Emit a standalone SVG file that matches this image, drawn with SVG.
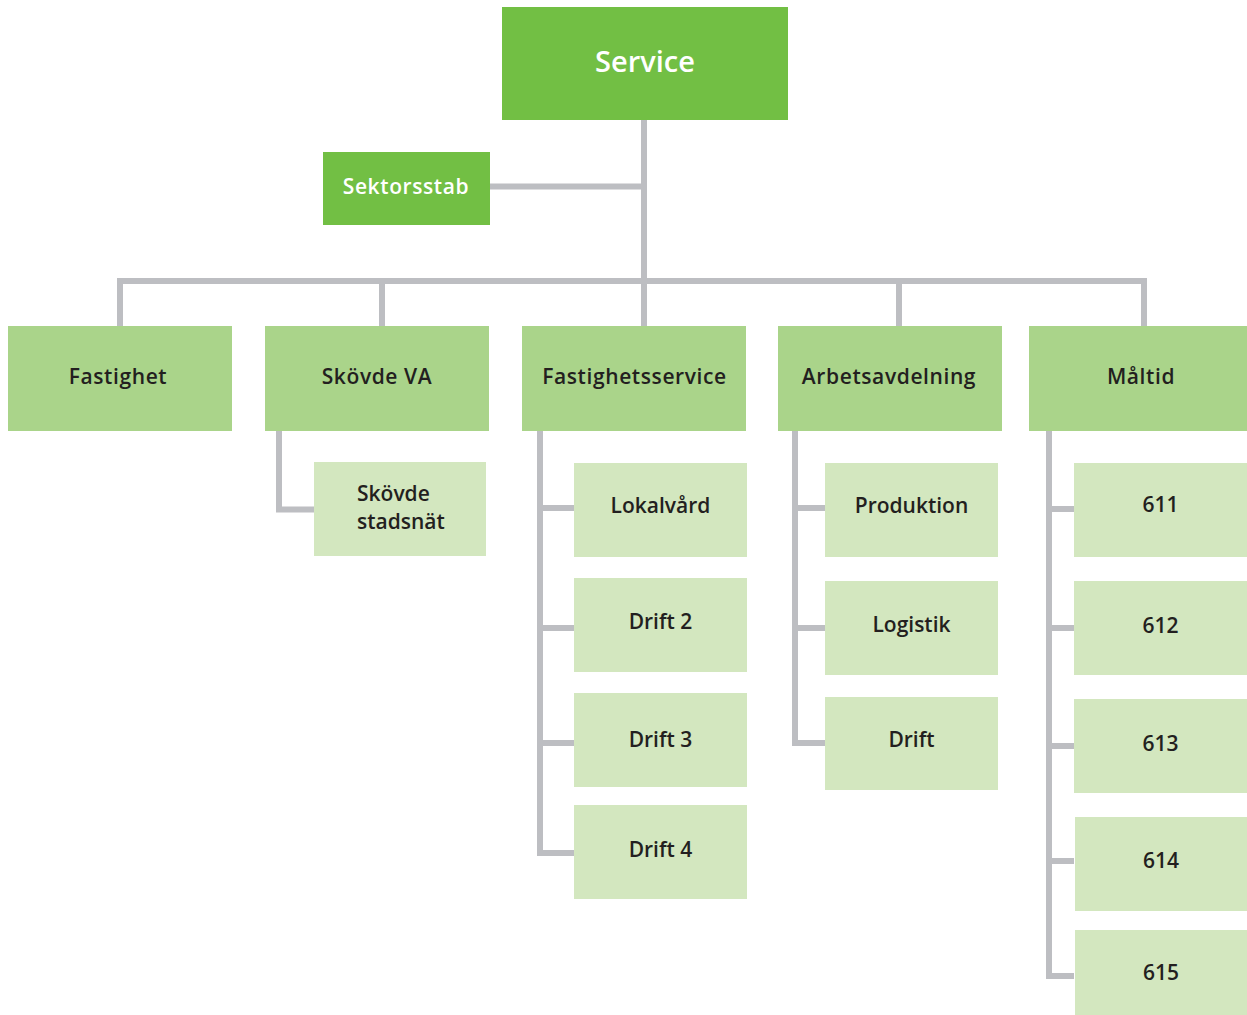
<svg xmlns="http://www.w3.org/2000/svg" width="1247" height="1015" viewBox="0 0 1247 1015">
<style>
.c{fill:none;stroke:#BDBEC2;stroke-width:6;stroke-linejoin:miter}
.l1{fill:#72BF44}
.l2{fill:#AAD48A}
.l3{fill:#D3E7BF}
text{font-family:"Open Sans","Noto Sans","Liberation Sans",sans-serif;font-weight:600;text-anchor:middle;fill:#231F20;font-size:21px}
.w{fill:#FFFFFF}
.s{letter-spacing:0.6px}
</style>
<rect width="1247" height="1015" fill="#FFFFFF"/>
<g id="connectors">
<path class="c" d="M644,120 V326"/>
<path class="c" d="M490,186.5 H644"/>
<path class="c" d="M120,326 V281 H1144 V326"/>
<path class="c" d="M382,281 V326"/>
<path class="c" d="M899,281 V326"/>
<path class="c" d="M279,431 V509.5 H314"/>
<path class="c" d="M540,431 V853 H574 M540,508 H574 M540,628 H574 M540,743 H574"/>
<path class="c" d="M795,431 V743 H825 M795,508 H825 M795,628 H825"/>
<path class="c" d="M1049,431 V976 H1074 M1049,509 H1074 M1049,628 H1074 M1049,746 H1074 M1049,861 H1074"/>
</g>
<g id="service"><rect class="l1" x="502" y="7" width="286" height="113"/><text class="w" x="645" y="72" style="font-size:29px">Service</text></g>
<g id="sektorsstab"><rect class="l1" x="323" y="152" width="167" height="73"/><text class="w s" x="406" y="194" style="font-size:21px">Sektorsstab</text></g>
<g id="fastighet"><rect class="l2" x="8" y="326" width="224" height="105"/><text class="s" x="118" y="384">Fastighet</text></g>
<g id="skovde-va"><rect class="l2" x="265" y="326" width="224" height="105"/><text class="s" x="377" y="384">Skövde VA</text></g>
<g id="fastighetsservice"><rect class="l2" x="522" y="326" width="224" height="105"/><text class="s" x="634.5" y="384">Fastighetsservice</text></g>
<g id="arbetsavdelning"><rect class="l2" x="778" y="326" width="224" height="105"/><text class="s" x="889" y="384">Arbetsavdelning</text></g>
<g id="maltid"><rect class="l2" x="1029" y="326" width="224" height="105"/><text class="s" x="1141" y="384">Måltid</text></g>
<g id="skovde-stadsnat"><rect class="l3" x="314" y="462" width="172" height="94"/><text x="357" y="500.5" style="text-anchor:start">Skövde</text><text x="357" y="529" style="text-anchor:start">stadsnät</text></g>
<g id="lokalvard"><rect class="l3" x="574" y="463" width="173" height="94"/><text x="660.5" y="513">Lokalvård</text></g>
<g id="drift2"><rect class="l3" x="574" y="578" width="173" height="94"/><text x="660.5" y="629">Drift 2</text></g>
<g id="drift3"><rect class="l3" x="574" y="693" width="173" height="94"/><text x="660.5" y="747">Drift 3</text></g>
<g id="drift4"><rect class="l3" x="574" y="805" width="173" height="94"/><text x="660.5" y="857">Drift 4</text></g>
<g id="produktion"><rect class="l3" x="825" y="463" width="173" height="94"/><text x="911.5" y="513">Produktion</text></g>
<g id="logistik"><rect class="l3" x="825" y="581" width="173" height="94"/><text x="911.5" y="632">Logistik</text></g>
<g id="drift"><rect class="l3" x="825" y="697" width="173" height="93"/><text x="911.5" y="747">Drift</text></g>
<g id="n611"><rect class="l3" x="1074" y="463" width="173" height="94"/><text x="1160.5" y="512">611</text></g>
<g id="n612"><rect class="l3" x="1074" y="581" width="173" height="94"/><text x="1160.5" y="633">612</text></g>
<g id="n613"><rect class="l3" x="1074" y="699" width="173" height="94"/><text x="1160.5" y="751">613</text></g>
<g id="n614"><rect class="l3" x="1075" y="817" width="172" height="94"/><text x="1161" y="868">614</text></g>
<g id="n615"><rect class="l3" x="1075" y="930" width="172" height="85"/><text x="1161" y="980">615</text></g>
</svg>
